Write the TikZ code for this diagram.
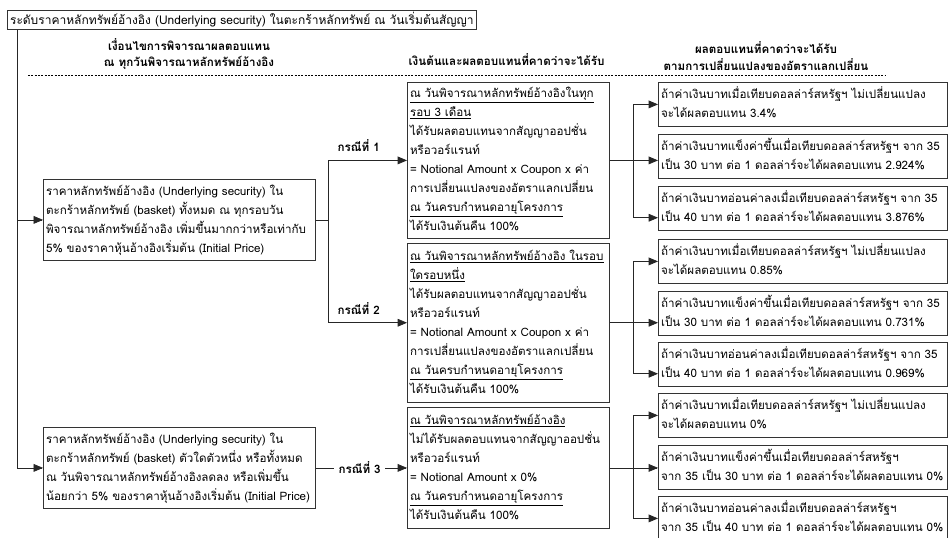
\documentclass[tikz,border=0pt]{standalone}
\usepackage{fontspec}
\setmainfont[Script=Thai]{Loma}
\usetikzlibrary{arrows}

\newcommand{\boxfont}{\fontsize{8.7}{14.25}\selectfont}
\newcommand{\rows}[1]{\begin{tabular}{@{}l@{}}#1\end{tabular}}

\begin{document}
\begin{tikzpicture}[x=0.75pt,y=-0.75pt,>=triangle 45,
    box/.style={draw=black!80,line width=0.6pt,anchor=north west,align=left,inner xsep=2pt,inner ysep=1.5pt,font=\boxfont},
    condbox/.style={box,text width=200pt,minimum height=60.75pt},
    midbox/.style={box,text width=147.5pt},
    resbox/.style={box,text width=212.75pt,minimum height=33pt},
    head/.style={font=\boxfont\bfseries,align=center},
    casename/.style={font=\boxfont\bfseries},
    link/.style={line width=0.6pt,black!85}]
            \useasboundingbox (0,0) rectangle (948,537);

            \node[box,minimum height=13.5pt,font=\fontsize{9}{14.25}\selectfont] (start) at (7,10) {ระดับราคาหลักทรัพย์อ้างอิง (Underlying security) ในตะกร้าหลักทรัพย์ ณ วันเริ่มต้นสัญญา};

            \node[head] (hcond) at (189,54) {เงื่อนไขการพิจารณาผลตอบแทน\\[-2pt]ณ ทุกวันพิจารณาหลักทรัพย์อ้างอิง};
            \node[head,anchor=west] (hmid) at (404,60) {เงินต้นและผลตอบแทนที่คาดว่าจะได้รับ};
            \node[head] (hres) at (766,56) {ผลตอบแทนที่คาดว่าจะได้รับ\\[-2pt]ตามการเปลี่ยนแปลงของอัตราแลกเปลี่ยน};
            \draw[dash pattern=on 1.5pt off 1pt,line width=0.4pt] (28,75) -- (885,75);

            \node[condbox] (cond1) at (43,179) {\rows{ราคาหลักทรัพย์อ้างอิง (Underlying security) ใน\\ตะกร้าหลักทรัพย์ (basket) ทั้งหมด ณ ทุกรอบวัน\\พิจารณาหลักทรัพย์อ้างอิง เพิ่มขึ้นมากกว่าหรือเท่ากับ\\5\% ของราคาหุ้นอ้างอิงเริ่มต้น (Initial Price)}};
            \node[condbox] (cond2) at (43,427) {\rows{ราคาหลักทรัพย์อ้างอิง (Underlying security) ใน\\ตะกร้าหลักทรัพย์ (basket) ตัวใดตัวหนึ่ง หรือทั้งหมด\\ณ วันพิจารณาหลักทรัพย์อ้างอิงลดลง หรือเพิ่มขึ้น\\น้อยกว่า 5\% ของราคาหุ้นอ้างอิงเริ่มต้น (Initial Price)}};

            \node[midbox,minimum height=116pt] (mid1) at (407,82) {\rows{\underline{ณ วันพิจารณาหลักทรัพย์อ้างอิงในทุก}\\\underline{รอบ 3 เดือน}\\ได้รับผลตอบแทนจากสัญญาออปชั่น\\หรือวอร์แรนท์\\= Notional Amount x Coupon x ค่า\\การเปลี่ยนแปลงของอัตราแลกเปลี่ยน\\\underline{ณ วันครบกำหนดอายุโครงการ}\\ได้รับเงินต้นคืน 100\%}};
            \node[midbox,minimum height=119pt] (mid2) at (407,243) {\rows{\underline{ณ วันพิจารณาหลักทรัพย์อ้างอิง ในรอบ}\\\underline{ใดรอบหนึ่ง}\\ได้รับผลตอบแทนจากสัญญาออปชั่น\\หรือวอร์แรนท์\\= Notional Amount x Coupon x ค่า\\การเปลี่ยนแปลงของอัตราแลกเปลี่ยน\\\underline{ณ วันครบกำหนดอายุโครงการ}\\ได้รับเงินต้นคืน 100\%}};
            \node[midbox,minimum height=90.75pt] (mid3) at (407,407) {\rows{\underline{ณ วันพิจารณาหลักทรัพย์อ้างอิง}\\ไม่ได้รับผลตอบแทนจากสัญญาออปชั่น\\หรือวอร์แรนท์\\= Notional Amount x 0\%\\\underline{ณ วันครบกำหนดอายุโครงการ}\\ได้รับเงินต้นคืน 100\%}};

            \node[casename,anchor=west] (case1) at (333,146) {กรณีที่ 1};
            \node[casename,anchor=west] (case2) at (333,309) {กรณีที่ 2};
            \node[casename,anchor=west,xshift=13.5pt] (case3) at (cond2.east) {กรณีที่ 3};

            \node[resbox] (res1) at (658,82) {\rows{ถ้าค่าเงินบาทเมื่อเทียบดอลล่าร์สหรัฐฯ ไม่เปลี่ยนแปลง\\จะได้ผลตอบแทน 3.4\%}};
            \node[resbox] (res2) at (658,134) {\rows{ถ้าค่าเงินบาทแข็งค่าขึ้นเมื่อเทียบดอลล่าร์สหรัฐฯ จาก 35\\เป็น 30 บาท ต่อ 1 ดอลล่าร์จะได้ผลตอบแทน 2.924\%}};
            \node[resbox] (res3) at (658,186) {\rows{ถ้าค่าเงินบาทอ่อนค่าลงเมื่อเทียบดอลล่าร์สหรัฐฯ จาก 35\\เป็น 40 บาท ต่อ 1 ดอลล่าร์จะได้ผลตอบแทน 3.876\%}};
            \node[resbox] (res4) at (658,239) {\rows{ถ้าค่าเงินบาทเมื่อเทียบดอลล่าร์สหรัฐฯ ไม่เปลี่ยนแปลง\\จะได้ผลตอบแทน 0.85\%}};
            \node[resbox] (res5) at (658,291) {\rows{ถ้าค่าเงินบาทแข็งค่าขึ้นเมื่อเทียบดอลล่าร์สหรัฐฯ จาก 35\\เป็น 30 บาท ต่อ 1 ดอลล่าร์จะได้ผลตอบแทน 0.731\%}};
            \node[resbox] (res6) at (658,342) {\rows{ถ้าค่าเงินบาทอ่อนค่าลงเมื่อเทียบดอลล่าร์สหรัฐฯ จาก 35\\เป็น 40 บาท ต่อ 1 ดอลล่าร์จะได้ผลตอบแทน 0.969\%}};
            \node[resbox] (res7) at (658,393) {\rows{ถ้าค่าเงินบาทเมื่อเทียบดอลล่าร์สหรัฐฯ ไม่เปลี่ยนแปลง\\จะได้ผลตอบแทน 0\%}};
            \node[resbox] (res8) at (658,445) {\rows{ถ้าค่าเงินบาทแข็งค่าขึ้นเมื่อเทียบดอลล่าร์สหรัฐฯ\\จาก 35 เป็น 30 บาท ต่อ 1 ดอลล่าร์จะได้ผลตอบแทน 0\%}};
            \node[resbox] (res9) at (658,496) {\rows{ถ้าค่าเงินบาทอ่อนค่าลงเมื่อเทียบดอลล่าร์สหรัฐฯ\\จาก 35 เป็น 40 บาท ต่อ 1 ดอลล่าร์จะได้ผลตอบแทน 0\%}};

            \coordinate (colL) at (17,0);
            \coordinate (colM) at (328,0);
            \coordinate (colR) at (633,0);

            \draw[link,->] (start.south -| colL) |- (cond1.west);
            \draw[link,->] (start.south -| colL) |- (cond2.west);

            \draw[link] (cond1.east) -- (cond1.east -| colM);
            \draw[link,->] (cond1.east -| colM) |- (mid1.west);
            \draw[link,->] (cond1.east -| colM) |- (mid2.west);
            \draw[link] (cond2) -- (case3);
            \draw[link,->] (case3) -- (mid3);

            \draw[link,->] (mid1.east) -- (mid1.east -| res2.west);
            \draw[link,->] (mid1.east -| colR) |- (res1.west);
            \draw[link,->] (mid1.east -| colR) |- ([yshift=-7pt]res3.west);
            \draw[link,->] (mid2.east) -- (mid2.east -| res5.west);
            \draw[link,->] (mid2.east -| colR) |- (res4.west);
            \draw[link,->] (mid2.east -| colR) |- ([yshift=-7pt]res6.west);
            \draw[link,->] (mid3.east) -- (mid3.east -| res8.west);
            \draw[link,->] (mid3.east -| colR) |- (res7.west);
            \draw[link,->] (mid3.east -| colR) |- (res9.west);
        \end{tikzpicture}
\end{document}
